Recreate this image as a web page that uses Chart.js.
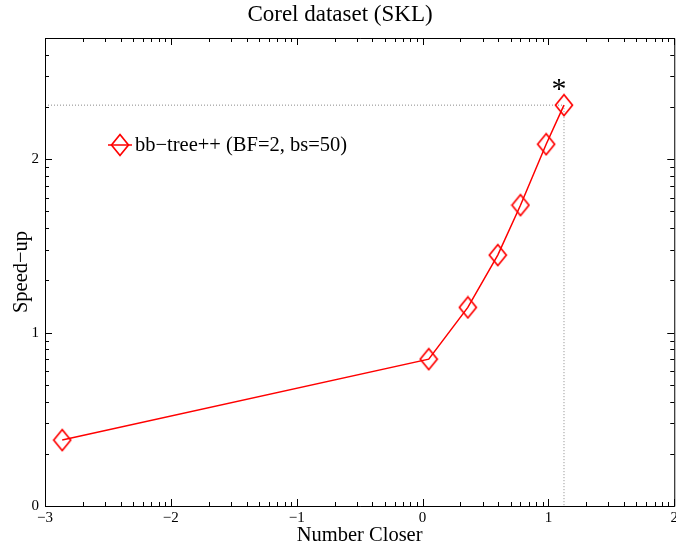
<!DOCTYPE html>
<html>
<head>
<meta charset="utf-8">
<script src="https://cdn.jsdelivr.net/npm/chart.js@4/dist/chart.umd.min.js"></script>
<style>
  html, body { margin: 0; padding: 0; background: #fff; overflow: hidden; }
  /* figure runs a few pixels past the right edge of the page */
  #wrap { width: 681px; height: 548px; }
</style>
</head>
<body>
<div id="wrap"><canvas id="chart"></canvas></div>
<script>
// both axes are log10; tick labels show the exponent
const numberCloser = [0.00137, 1.12, 2.29, 3.96, 6.0, 9.6, 13.3];
const speedUp = [2.40, 7.03, 13.97, 28.0, 54.3, 122, 205];
const seriesLabel = 'bb\u2212tree++ (BF=2, bs=50)';
const xDecades = [-3, -2, -1, 0, 1, 2];
const yDecades = [0, 1, 2];
const yTopMultiple = 5; // y axis ends at 5e2

const SERIF = '"Liberation Serif", "DejaVu Serif", serif';
const RED = '#ff0000';

// minor/major log tick values: 1..9 x 10^d
function logTicks(decades, lastMultiple) {
  const out = [];
  decades.forEach((d, i) => {
    const top = i === decades.length - 1 ? lastMultiple : 9;
    for (let m = 1; m <= top; m++) out.push(m * Math.pow(10, d));
  });
  return out;
}
const xTickValues = logTicks(xDecades, 1);
const yTickValues = logTicks(yDecades, yTopMultiple);

function isDecade(v) {
  const e = Math.log10(v);
  return Math.abs(e - Math.round(e)) < 1e-9;
}
function expLabel(v) {
  if (!isDecade(v)) return '';
  const e = Math.round(Math.log10(v));
  return e < 0 ? '\u2212' + Math.abs(e) : String(e);
}

// diamond marker, slightly taller than wide
function diamond() {
  const c = document.createElement('canvas');
  c.width = 20; c.height = 24;
  const g = c.getContext('2d');
  g.strokeStyle = RED;
  g.lineWidth = 1.7;
  g.beginPath();
  g.moveTo(10, 1.5);
  g.lineTo(18.5, 12);
  g.lineTo(10, 22.5);
  g.lineTo(1.5, 12);
  g.closePath();
  g.stroke();
  return c;
}
const marker = diamond();

const points = numberCloser.map((x, i) => ({ x, y: speedUp[i] }));
const last = points[points.length - 1];
const xMin = xTickValues[0];
const xMax = xTickValues[xTickValues.length - 1];
const yMin = yTickValues[0];
const yMax = yTickValues[yTickValues.length - 1];

// box with inward ticks on all four sides
const axesBox = {
  id: 'axesBox',
  afterDatasetsDraw(chart) {
    const { ctx, chartArea: a, scales: { x, y } } = chart;
    ctx.save();
    ctx.strokeStyle = '#000';
    ctx.lineWidth = 1;
    ctx.beginPath();
    ctx.rect(a.left + 0.5, a.top + 0.5, a.right - a.left, a.bottom - a.top);
    xTickValues.forEach(v => {
      const px = Math.round(x.getPixelForValue(v)) + 0.5;
      const len = isDecade(v) ? 7 : 4;
      ctx.moveTo(px, a.bottom); ctx.lineTo(px, a.bottom - len);
      ctx.moveTo(px, a.top); ctx.lineTo(px, a.top + len);
    });
    yTickValues.forEach(v => {
      const py = Math.round(y.getPixelForValue(v)) + 0.5;
      const len = isDecade(v) ? 7 : 4;
      ctx.moveTo(a.left, py); ctx.lineTo(a.left + len, py);
      ctx.moveTo(a.right, py); ctx.lineTo(a.right - len, py);
    });
    ctx.stroke();

    // asterisk over the best point
    const px = x.getPixelForValue(last.x);
    const py = y.getPixelForValue(last.y);
    ctx.fillStyle = '#000';
    ctx.font = '30px ' + SERIF;
    ctx.textAlign = 'center';
    ctx.textBaseline = 'middle';
    ctx.fillText('*', px - 5, py - 15);

    // legend entry
    const lx = a.left + 63, ly = a.top + 107;
    ctx.strokeStyle = RED;
    ctx.lineWidth = 1.5;
    ctx.beginPath();
    ctx.moveTo(lx, ly); ctx.lineTo(lx + 24, ly);
    ctx.stroke();
    ctx.drawImage(marker, lx + 12 - marker.width / 2, ly - marker.height / 2);
    ctx.font = '20.5px ' + SERIF;
    ctx.textAlign = 'left';
    ctx.fillText(seriesLabel, lx + 27, ly + 1);
    ctx.restore();
  }
};

new Chart(document.getElementById('chart'), {
  type: 'scatter',
  data: {
    datasets: [
      {
        label: 'guide',
        data: [{ x: xMin, y: last.y }, { x: last.x, y: last.y }, { x: last.x, y: yMin }],
        showLine: true,
        borderColor: '#8a8a8a',
        borderWidth: 1,
        borderDash: [1, 2],
        pointRadius: 0,
        order: 2
      },
      {
        label: seriesLabel,
        data: points,
        showLine: true,
        borderColor: RED,
        borderWidth: 1.5,
        pointStyle: marker,
        order: 1
      }
    ]
  },
  options: {
    responsive: true,
    maintainAspectRatio: false,
    animation: false,
    layout: { padding: { right: 1 } },
    plugins: {
      legend: { display: false },
      tooltip: { enabled: false },
      title: {
        display: true,
        text: 'Corel dataset (SKL)',
        color: '#000',
        font: { family: SERIF, size: 23, weight: 'normal', lineHeight: 1.2 },
        padding: { top: 1, bottom: 9.4 }
      }
    },
    scales: {
      x: {
        type: 'logarithmic',
        min: xMin,
        max: xMax,
        afterBuildTicks: s => { s.ticks = xTickValues.map(value => ({ value })); },
        afterFit: s => { s.height = 42; },
        grid: { display: false, drawTicks: false },
        border: { display: false },
        ticks: {
          autoSkip: false,
          maxRotation: 0,
          padding: 3,
          color: '#000',
          font: { family: SERIF, size: 15 },
          callback: v => expLabel(v)
        },
        title: {
          display: true,
          text: 'Number Closer',
          color: '#000',
          font: { family: SERIF, size: 20.5, lineHeight: 1.2 },
          padding: { top: 0, bottom: 0 }
        }
      },
      y: {
        type: 'logarithmic',
        min: yMin,
        max: yMax,
        afterBuildTicks: s => { s.ticks = yTickValues.map(value => ({ value })); },
        afterFit: s => { s.width = 45; },
        grid: { display: false, drawTicks: false },
        border: { display: false },
        ticks: {
          autoSkip: false,
          padding: 6,
          color: '#000',
          font: { family: SERIF, size: 15 },
          callback: v => expLabel(v)
        },
        title: {
          display: true,
          text: 'Speed\u2212up',
          color: '#000',
          font: { family: SERIF, size: 20.5, lineHeight: 1.2 },
          padding: { top: 9, bottom: 0 }
        }
      }
    }
  },
  plugins: [axesBox]
});
</script>
</body>
</html>
